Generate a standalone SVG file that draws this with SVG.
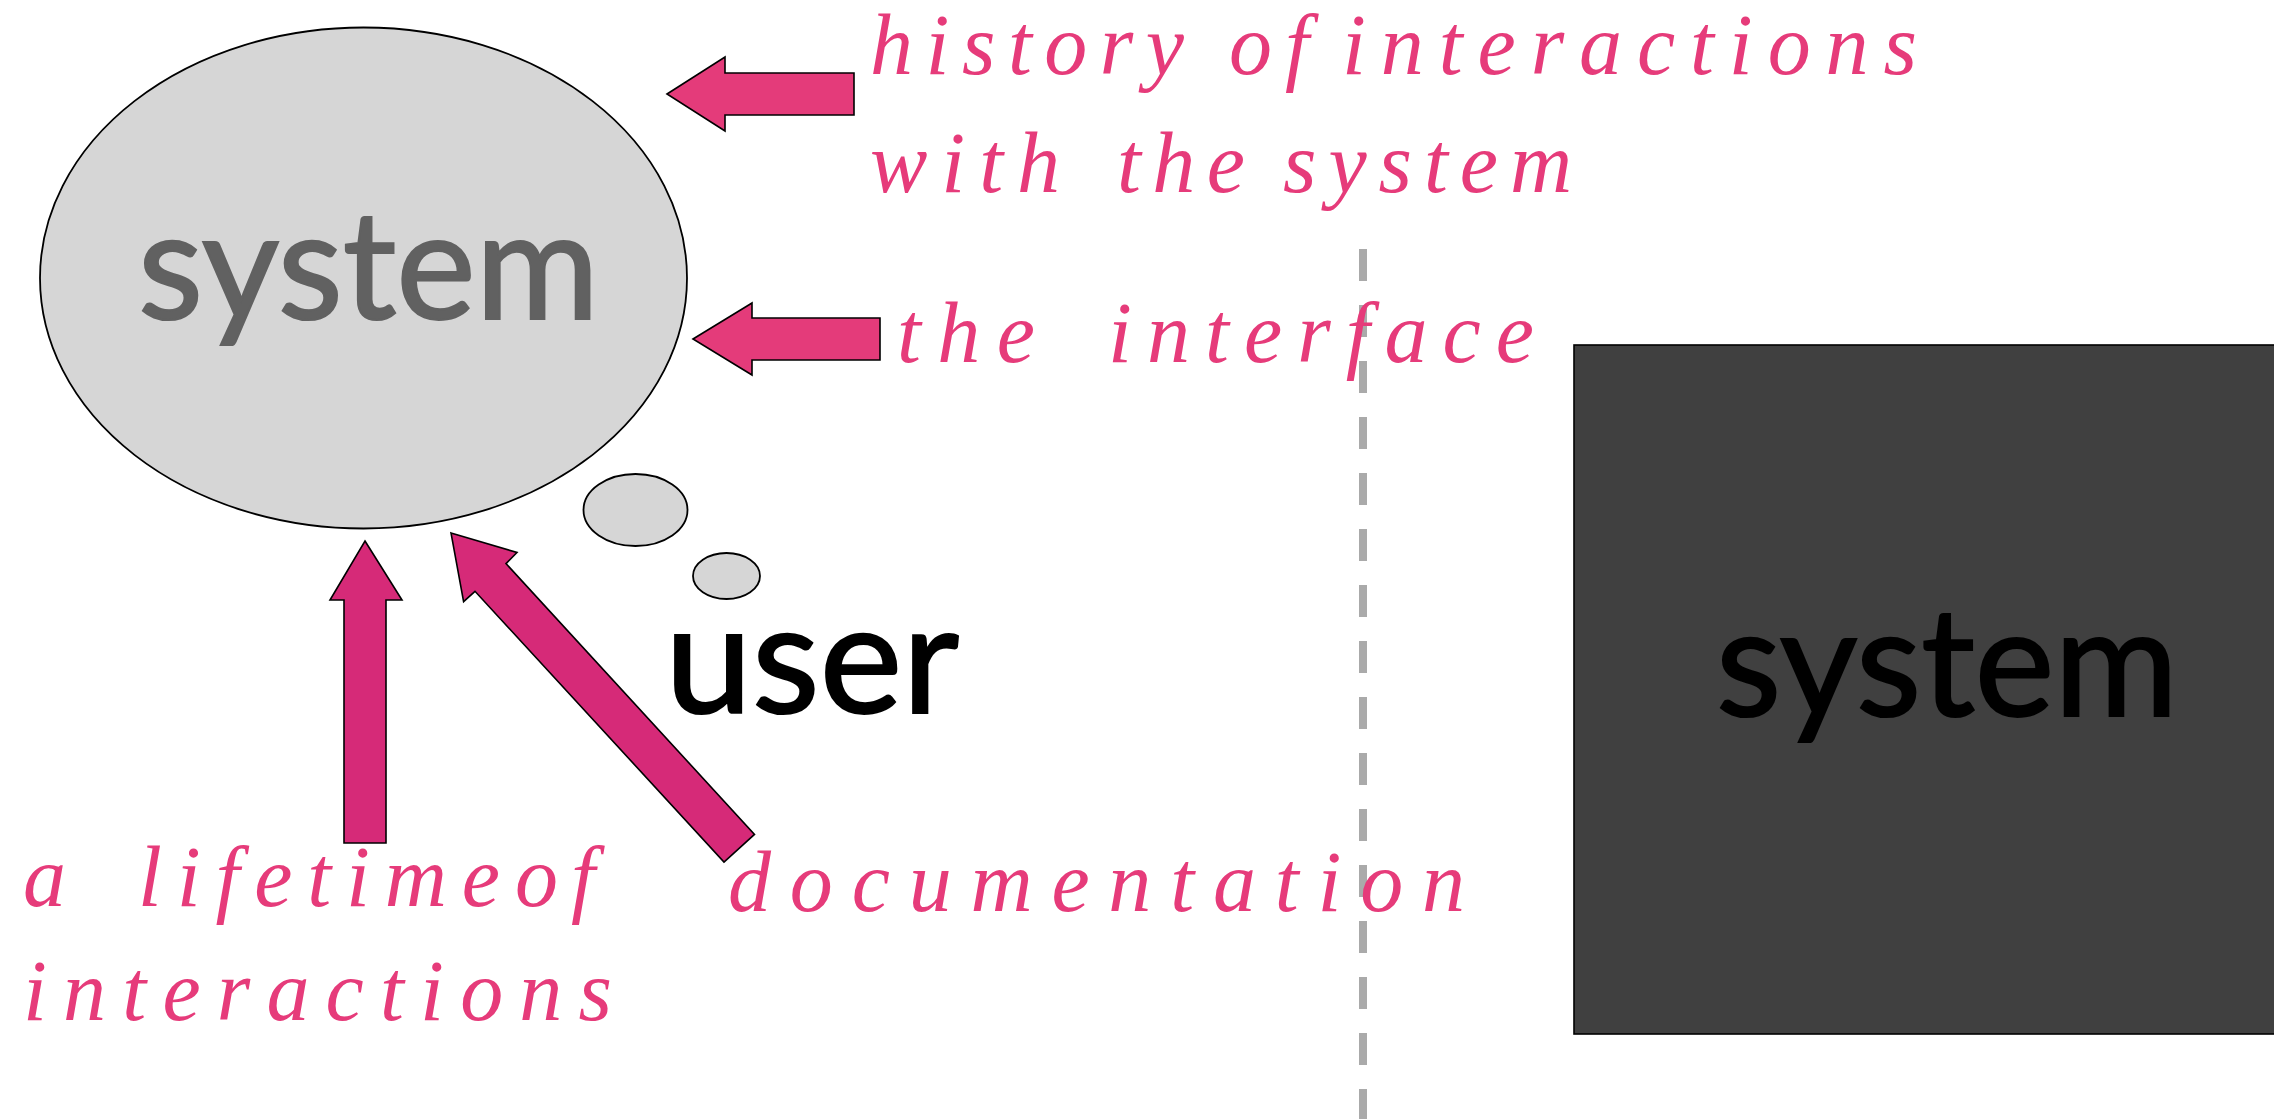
<svg xmlns="http://www.w3.org/2000/svg" width="2274" height="1119" viewBox="0 0 2274 1119">
<style>
.bg{fill:#ffffff}
.sans{font-family:Lato,"Open Sans",sans-serif;stroke-width:2.2}
.lbl{font-family:"Liberation Serif","Times New Roman",serif;font-style:italic;font-size:86px;fill:#E63B7A}
.arrH{fill:#E43B7A;stroke:#000;stroke-width:1.6;stroke-linejoin:miter}
.arrV{fill:#D62A78;stroke:#000;stroke-width:1.6;stroke-linejoin:miter}
.bubble{fill:#D6D6D6;stroke:#000;stroke-width:1.8}
</style>
<rect class="bg" x="0" y="0" width="2274" height="1119"/>

<g id="divider">
<line x1="1363" y1="249" x2="1363" y2="1119" stroke="#AAAAAA" stroke-width="8" stroke-dasharray="32 24"/>
</g>

<g id="system-box">
<rect x="1574" y="345" width="720" height="689" fill="#404040" stroke="#000" stroke-width="1.6"/>
<text class="sans" x="1716" y="716" font-size="152" fill="#000" stroke="#000" textLength="462" lengthAdjust="spacingAndGlyphs">system</text>
</g>

<g id="system-ellipse">
<ellipse cx="363.5" cy="278" rx="323.5" ry="250.5" fill="#D6D6D6" stroke="#000" stroke-width="1.8"/>
<text class="sans" x="138" y="319" font-size="152" fill="#616161" stroke="#616161" textLength="461" lengthAdjust="spacingAndGlyphs">system</text>
</g>

<g id="thought-bubbles">
<ellipse class="bubble" cx="635.5" cy="510" rx="52" ry="36"/>
<ellipse class="bubble" cx="726.5" cy="576" rx="33.5" ry="23"/>
</g>

<g id="user">
<text class="sans" x="665" y="713" font-size="154" fill="#000" stroke="#000" textLength="294" lengthAdjust="spacingAndGlyphs">user</text>
</g>

<g id="connectors">
<polygon class="arrH" points="667,94 725,57 725,73 854,73 854,115 725,115 725,131"/>
<polygon class="arrH" points="693,339 752,303 752,318 880,318 880,360 752,360 752,375"/>
<polygon class="arrV" points="365,541 402,600 386,600 386,843 344,843 344,600 330,600"/>
<polygon class="arrV" points="451,533 517,552.5 506,563.6 754.5,834.4 724,862 475,591.3 463.6,601.7"/>
</g>

<g id="labels">
<g id="label-history">
<text class="lbl" x="870" y="74" textLength="314" lengthAdjust="spacing">history</text>
<text class="lbl" x="1229" y="74" textLength="80" lengthAdjust="spacing">of</text>
<text class="lbl" x="1342" y="74" textLength="575" lengthAdjust="spacing">interactions</text>
<text class="lbl" x="870" y="192" textLength="190" lengthAdjust="spacing">with</text>
<text class="lbl" x="1117" y="192" textLength="128" lengthAdjust="spacing">the</text>
<text class="lbl" x="1283" y="192" textLength="289" lengthAdjust="spacing">system</text>
</g>
<g id="label-interface">
<text class="lbl" x="897" y="362" textLength="138" lengthAdjust="spacing">the</text>
<text class="lbl" x="1108" y="362" textLength="426" lengthAdjust="spacing">interface</text>
</g>
<g id="label-lifetime">
<text class="lbl" x="23" y="906">a</text>
<text class="lbl" x="138" y="906" textLength="362" lengthAdjust="spacing">lifetime</text>
<text class="lbl" x="515" y="906" textLength="80" lengthAdjust="spacing">of</text>
<text class="lbl" x="23" y="1020" textLength="589" lengthAdjust="spacing">interactions</text>
</g>
<g id="label-documentation">
<text class="lbl" x="728" y="911" textLength="737" lengthAdjust="spacing">documentation</text>
</g>
</g>
</svg>
